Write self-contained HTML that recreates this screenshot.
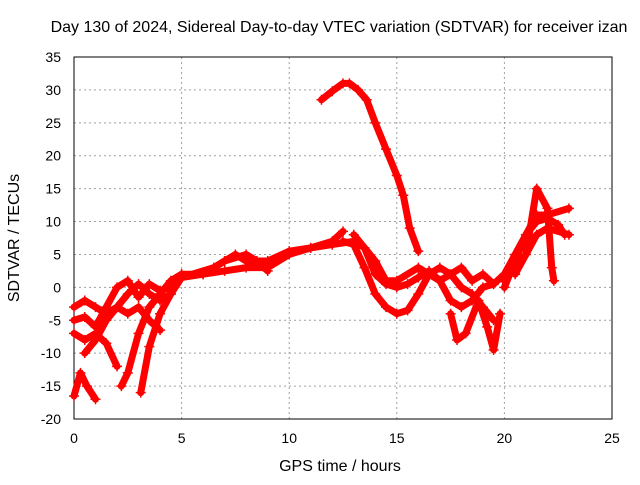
<!DOCTYPE html>
<html><head><meta charset="utf-8"><style>
body{margin:0;background:#fff}
svg text{font-family:"Liberation Sans",sans-serif;font-size:14px;fill:#000}
svg text.big{font-size:16px}
</style></head><body>
<svg id="c" width="640" height="480">
<text class="big" x="339" y="32" text-anchor="middle">Day 130 of 2024, Sidereal Day-to-day VTEC variation (SDTVAR) for receiver izan</text>
<g id="grid"></g>
<rect x="74" y="57" width="538" height="362" fill="none" stroke="#000"/>
<g id="ticks"></g>
<g id="series"></g>
<text class="big" x="340" y="471" text-anchor="middle">GPS time / hours</text>
<text class="big" transform="translate(19,238) rotate(-90)" text-anchor="middle">SDTVAR / TECUs</text>
</svg>
<script>
const xTicks=[0,5,10,15,20,25];
const yTicks=[-20,-15,-10,-5,0,5,10,15,20,25,30,35];
const tracks=[
[[11.5,28.5],[12,29.8],[12.5,31],[12.8,31],[13.2,30],[13.6,28.5],[14,25],[14.5,21],[15,17],[15.3,14],[15.6,9],[16,5.5]],
[[5,1.5],[6,2],[7,2.5],[8,3],[9,3],[10,5],[11,6],[12,6.5],[13,7],[13.5,6],[14,2],[14.5,0.5],[15,0],[15.5,0.5],[16,1.5],[16.5,2.5],[17,1],[17.5,-2],[18,-3],[18.5,-2],[19,0],[19.5,0.5],[20,2],[20.5,5],[21,8],[21.5,10],[22,10.5],[22.5,9.5],[22.8,8]],
[[12.5,7],[13,6.5],[13.5,3],[14,-1],[14.5,-3],[15,-4],[15.5,-3.5],[16,-1],[16.5,2],[17,3],[17.5,2],[18,0],[18.5,-1],[19,-3],[19.5,-5]],
[[17.5,-4],[17.8,-8],[18.2,-7],[18.8,-2],[19.2,-6],[19.5,-9.5],[19.8,-4]],
[[13,8],[14,4],[14.5,1],[15,1],[16,3],[17,1],[18,3],[18.5,1],[19,2],[19.5,0.5]],
[[20,1],[21,5],[21.5,15],[22,12],[22.2,3],[22.3,1]],
[[0,-3],[0.5,-2],[1,-3],[1.5,-4],[2,-3],[2.5,-4],[3,-3],[3.5,-5],[4,-6.5]],
[[0,-7],[0.5,-8],[1,-7],[1.5,-8.5],[2,-12]],
[[0,-16.5],[0.3,-13],[0.6,-15],[1,-17]],
[[0,-5],[0.5,-4.5],[1,-6],[1.5,-3],[2,0],[2.5,1],[3,-1.5],[3.5,0.5],[4,-0.5],[4.5,0],[5,2]],
[[0.5,-10],[1,-8],[1.5,-5],[2,-3],[2.5,-1],[3,0.5],[3.5,-1],[4,-2],[4.5,-1]],
[[2.2,-15],[2.5,-13],[3,-7],[3.5,-3],[4,-1],[4.5,1],[5,2],[6,2],[7,4],[8,5],[8.5,4],[9,2.5]],
[[3.1,-16],[3.5,-9],[4,-4],[4.5,-1],[5,1.5],[6.5,3],[7,4],[7.5,5],[8,4],[9,4],[10,5.5],[11,6],[12,7],[12.5,8.5]],
[[20,0],[21,8],[21.5,11],[22,11],[23,12]],
[[20.5,2],[21.5,8],[22,9],[23,8]]
];
const NS='http://www.w3.org/2000/svg';
const X=t=>74+t*538/25, Y=v=>57+(35-v)*362/55;
function mk(tag,at,parent){const e=document.createElementNS(NS,tag);for(const k in at)e.setAttribute(k,at[k]);parent.appendChild(e);return e;}
const grid=document.getElementById('grid'),ticks=document.getElementById('ticks'),ser=document.getElementById('series');
xTicks.forEach(t=>{
 if(t>0&&t<25){const l=mk('line',{x1:X(t),x2:X(t),y1:57,y2:419,stroke:'#a0a0a0','stroke-dasharray':'2,3'},grid);
 
 }
 const tx=mk('text',{x:X(t),y:443,'text-anchor':'middle'},ticks);tx.textContent=t;
 
 
});
yTicks.forEach(v=>{
 if(v>-20&&v<35){const l=mk('line',{x1:74,x2:612,y1:Y(v),y2:Y(v),stroke:'#a0a0a0','stroke-dasharray':'2,3'},grid);
 
 }
 const tx=mk('text',{x:61,y:Y(v)+5,'text-anchor':'end'},ticks);tx.textContent=v;
 
 
});
tracks.forEach((tr,i)=>{
 const g=mk('g',{},ser);
 
 
 mk('polyline',{points:tr.map(p=>X(p[0])+','+Y(p[1])).join(' '),fill:'none',stroke:'#f00','stroke-width':7,'stroke-linejoin':'round','stroke-linecap':'round'},g);
 tr.forEach(p=>{const x=X(p[0]),y=Y(p[1]);
  mk('path',{d:`M${x-5},${y}H${x+5}M${x},${y-5}V${y+5}`,stroke:'#f00','stroke-width':1.5},g);});
});
</script>
</body></html>
